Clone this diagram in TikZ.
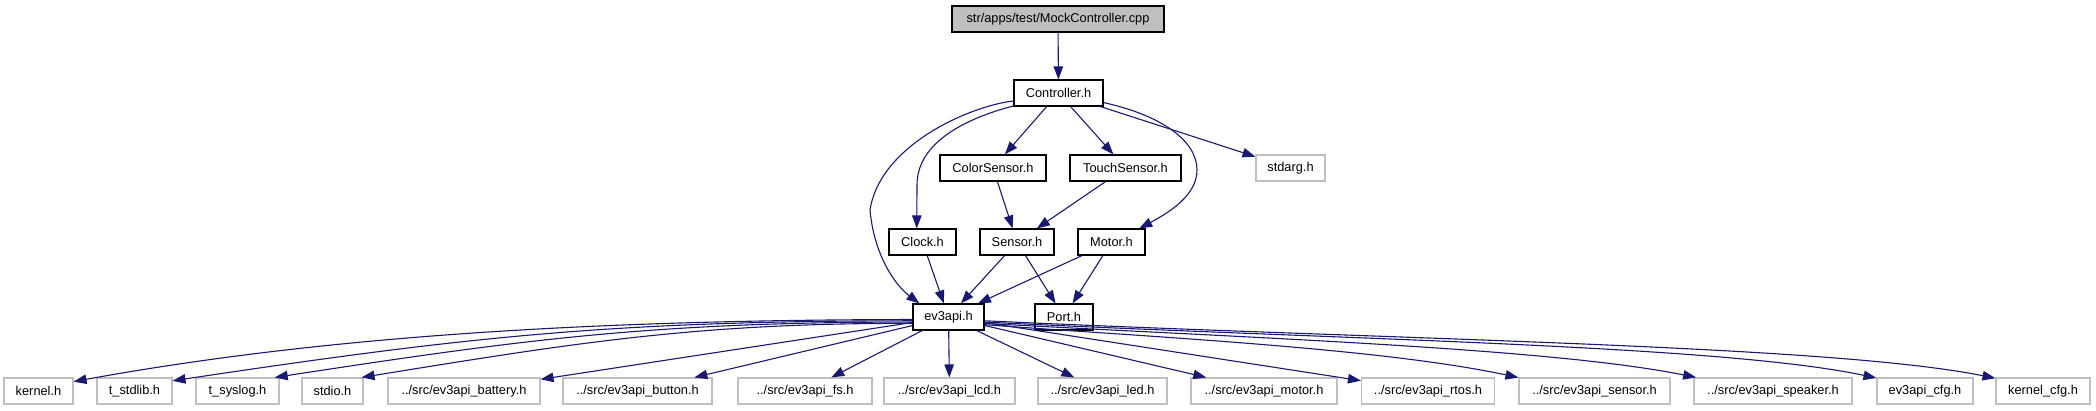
\documentclass[tikz,border=0pt]{standalone}
\usepackage{fontspec}
\setmainfont{Liberation Sans}
\usetikzlibrary{arrows.meta}
\definecolor{edgec}{HTML}{191970}
\definecolor{graybd}{HTML}{BFBFBF}
\definecolor{grayfill}{HTML}{BFBFBF}
\begin{document}
\begin{tikzpicture}[x=1pt,y=-1pt,
  box/.style={draw=black, line width=1.1pt, inner sep=0pt, minimum height=26pt,
    font=\fontsize{12.8}{14}\selectfont, fill=white},
  ext/.style={box, draw=graybd},
  e/.style={draw=edgec, line width=1.1pt, -{Triangle[length=13pt,width=9.5pt]}}]
\useasboundingbox (0,0) rectangle (2096,411);
% top
\node[box, minimum width=212pt, fill=grayfill] (mock) at (1058,19) {str/apps/test/MockController.cpp};
\node[box, minimum width=89pt] (ctrl) at (1058.5,93) {Controller.h};
% level 2
\node[box, minimum width=106pt] (color) at (993,168) {ColorSensor.h};
\node[box, minimum width=111pt] (touch) at (1125.5,168) {TouchSensor.h};
\node[ext, minimum width=69pt] (stdarg) at (1290.5,168) {stdarg.h};
% level 3
\node[box, minimum width=67pt] (clock) at (922.5,242) {Clock.h};
\node[box, minimum width=74pt] (sensor) at (1017,242) {Sensor.h};
\node[box, minimum width=67pt] (motor) at (1111.5,242) {Motor.h};
% level 4
\node[box, minimum width=71pt] (ev3api) at (948.5,317) {ev3api.h};
\node[box, minimum width=58pt] (port) at (1064,317) {Port.h};
% bottom row
\node[ext, minimum width=69pt] (kernel) at (38.5,391) {kernel.h};
\node[ext, minimum width=75pt] (tstdlib) at (134.5,391) {t\_stdlib.h};
\node[ext, minimum width=83pt] (tsyslog) at (237.5,391) {t\_syslog.h};
\node[ext, minimum width=61pt] (stdio) at (332.5,391) {stdio.h};
\node[ext, minimum width=152pt] (battery) at (464,391) {../src/ev3api\_battery.h};
\node[ext, minimum width=149pt] (button) at (637.5,391) {../src/ev3api\_button.h};
\node[ext, minimum width=134pt] (fs) at (805,391) {../src/ev3api\_fs.h};
\node[ext, minimum width=131pt] (lcd) at (949.5,391) {../src/ev3api\_lcd.h};
\node[ext, minimum width=129pt] (led) at (1102.5,391) {../src/ev3api\_led.h};
\node[ext, minimum width=146pt] (motorh) at (1264,391) {../src/ev3api\_motor.h};
\node[ext, minimum width=133pt] (rtos) at (1428,391) {../src/ev3api\_rtos.h};
\node[ext, minimum width=151pt] (sensorh) at (1594.5,391) {../src/ev3api\_sensor.h};
\node[ext, minimum width=158pt] (speaker) at (1773,391) {../src/ev3api\_speaker.h};
\node[ext, minimum width=96pt] (cfg) at (1925,391) {ev3api\_cfg.h};
\node[ext, minimum width=94pt] (kcfg) at (2043,391) {kernel\_cfg.h};
% edges top
\draw[e] (mock) -- (ctrl);
\draw[e] (ctrl) -- (color);
\draw[e] (ctrl) -- (touch);
\draw[e] (ctrl) -- (stdarg);
\draw[e] (ctrl.196) .. controls (960,120) and (917,145) .. (917,185) -- (clock.113);
\draw[e] (ctrl.190) .. controls (970,106) and (880,145) .. (870,210)
  .. controls (874,255) and (895,285) .. (ev3api.155);
\draw[e] (ctrl.-12) .. controls (1160,115) and (1197,140) .. (1197,170)
  .. controls (1197,195) and (1170,212) .. (motor.26);
\draw[e] (color) -- (sensor);
\draw[e] (touch) -- (sensor);
\draw[e] (clock) -- (ev3api);
\draw[e] (sensor) -- (ev3api);
\draw[e] (sensor) -- (port);
\draw[e] (motor) -- (ev3api);
\draw[e] (motor) -- (port);
% edges bottom
\draw[e] (ev3api.184) .. controls (600,320) and (330,335) .. (kernel.15);
\draw[e] (ev3api.186) .. controls (613,321) and (472,336) .. (tstdlib.15);
\draw[e] (ev3api.188) .. controls (650,322) and (520,340) .. (tsyslog.20);
\draw[e] (ev3api.190) .. controls (700,323) and (580,342) .. (stdio.25);
\draw[e] (ev3api) -- (battery);
\draw[e] (ev3api) -- (button);
\draw[e] (ev3api) -- (fs);
\draw[e] (ev3api) -- (lcd);
\draw[e] (ev3api) -- (led);
\draw[e] (ev3api) -- (motorh);
\draw[e] (ev3api) -- (rtos);
\draw[e] (ev3api.-12) .. controls (1150,337) and (1380,348) .. (sensorh.170);
\draw[e] (ev3api.-10) .. controls (1250,338) and (1550,348) .. (speaker.170);
\draw[e] (ev3api.-8) .. controls (1350,340) and (1720,345) .. (cfg.165);
\draw[e] (ev3api.-6) .. controls (1400,340) and (1830,345) .. (kcfg.165);
\end{tikzpicture}
\end{document}
